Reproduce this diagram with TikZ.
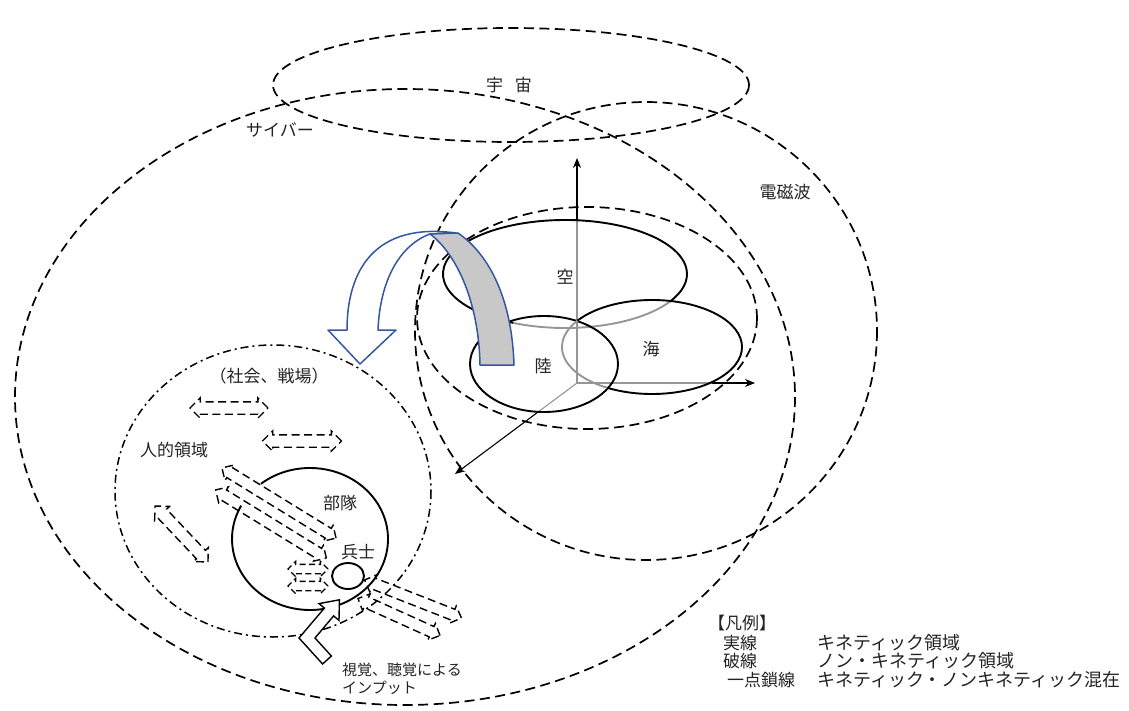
\documentclass[tikz,border=0pt]{standalone}
\usepackage{fontspec}
\setmainfont{Noto Sans CJK JP}
\usetikzlibrary{arrows.meta,shapes.arrows}
\definecolor{bluearrow}{RGB}{52,87,160}
\definecolor{bandgray}{RGB}{200,200,200}
\definecolor{axgray}{RGB}{150,150,150}
\definecolor{txt}{RGB}{35,35,35}
\begin{document}
\begin{tikzpicture}[x=1pt,y=-1pt,
  bigdash/.style={line width=1.7pt, dash pattern=on 10pt off 5.5pt},
  dashdot/.style={line width=1.5pt, dash pattern=on 8pt off 4pt on 2pt off 4pt},
  solidline/.style={line width=1.9pt},
  graysolid/.style={line width=1.9pt, draw=axgray},
  axisblack/.style={line width=1.1pt, draw=black},
  axisgray/.style={line width=1.1pt, draw=axgray},
  axistip/.style={-{Stealth[length=10pt,width=8pt]}},
  hollowarrow/.style={shape=double arrow, draw, line width=1.4pt, dash pattern=on 8pt off 4.5pt,
     inner xsep=0pt, inner ysep=5.5pt, double arrow head extend=4pt, minimum width=0pt},
  narrowarrow/.style={hollowarrow, inner ysep=5pt, double arrow head extend=3.5pt},
  smallarrow/.style={hollowarrow, inner ysep=4pt, double arrow head extend=3pt, dash pattern=on 6pt off 3.5pt},
  lbl/.style={font=\fontsize{17}{20}\selectfont, inner sep=0pt, text=txt},
  legend/.style={font=\fontsize{17}{20}\selectfont, inner sep=0pt, anchor=west, text=txt},
  legendwide/.style={legend, font=\fontsize{18}{20}\selectfont},
  blueband/.style={draw=bluearrow, line width=1.5pt, line join=round},
]
\useasboundingbox (0,0) rectangle (1129,711);

% axes (behind)
\coordinate (O) at (577,383);
\coordinate (vmid) at (577,220);
\coordinate (vtop) at (577,158);
\coordinate (hmid) at (712,383);
\coordinate (hend) at (755,383);
\coordinate (dmid) at (537,412.8);
\coordinate (dend) at (455,474);
\draw[axisgray] (O) -- (vmid);
\draw[axisblack, axistip] (vmid) -- (vtop);
\draw[axisgray] (O) -- (hmid);
\draw[axisblack, axistip] (hmid) -- (hend);
\draw[axisgray] (O) -- (dmid);
\draw[axisblack, axistip] (dmid) -- (dend);

% big dashed domains
\draw[bigdash] (511,85) ellipse [x radius=238, y radius=57];
\draw[bigdash] (405,397) ellipse [x radius=390, y radius=308];
\draw[bigdash] (646,331) ellipse [x radius=231, y radius=229];
\draw[bigdash] (587,318) ellipse [x radius=170, y radius=111];

% air / land / sea
\draw[solidline] (565,274) ++(115:122 and 54) arc[start angle=115, end angle=391, x radius=122, y radius=54];
\draw[graysolid] (565,274) ++(31:122 and 54) arc[start angle=31, end angle=115, x radius=122, y radius=54];
\draw[solidline] (544,364) ellipse [x radius=74, y radius=48];
\draw[solidline] (652,347) ++(214:90 and 47) arc[start angle=214, end angle=480, x radius=90, y radius=47];
\draw[graysolid] (652,347) ++(120:90 and 47) arc[start angle=120, end angle=214, x radius=90, y radius=47];

% blue folded arrow
\draw[blueband, fill=white] (378,330) .. controls (380,280) and (400,245) .. (430,234)
   -- (456,233) .. controls (375,222) and (347,270) .. (347,330)
   -- (328,330) -- (360,364) -- (396,330) -- cycle;
\draw[blueband, fill=bandgray] (430,234) -- (458,233) .. controls (490,255) and (512,300) .. (514,365)
   -- (480,365) .. controls (479,305) and (458,255) .. (430,234) -- cycle;

% human domain
\draw[dashdot] (273,491) ellipse [x radius=158, y radius=146];
\draw[solidline] (310,539) ++(231:78 and 71) arc[start angle=231, end angle=568, x radius=78, y radius=71];
\draw[solidline] (348,576) ellipse [x radius=16, y radius=13];

% dashed hollow arrows
\node[hollowarrow, minimum height=78pt] (a1) at (229,408) {};
\node[hollowarrow, minimum height=79pt] (a2) at (302,441) {};
\node[hollowarrow, minimum height=77pt, rotate=-46.6] (a3) at (181.5,534) {};
\node[narrowarrow, minimum height=134pt, rotate=-31.6] (a4) at (279,503) {};
\node[narrowarrow, minimum height=130pt, rotate=-31.6] (a5) at (271,524) {};
\node[smallarrow, minimum height=40pt] (a6) at (308,569) {};
\node[smallarrow, minimum height=40pt] (a7) at (308,586) {};
\node[narrowarrow, minimum height=104pt, rotate=-21.4] (a8) at (413,599) {};
\node[narrowarrow, minimum height=90pt, rotate=-24.3] (a9) at (399,617) {};

% input arrow
\draw[line width=1.4pt, fill=white, line join=miter] (322.6,664) -- (299,638) -- (324.4,608.1) -- (319,603.6)
   -- (339.4,599.8) -- (339,620.4) -- (333.6,615.9) -- (315,638) -- (331.4,656) -- cycle;

% labels
\node[lbl] (uchu) at (509,85) {宇\hspace{12pt}宙};
\node[lbl] (cyber) at (280,130) {サイバー};
\node[lbl] (denjiha) at (785,192) {電磁波};
\node[lbl] (sora) at (565,277) {空};
\node[lbl] (riku) at (543,366) {陸};
\node[lbl] (umi) at (651,349) {海};
\node[lbl] (shakai) at (269,376) {（社会、戦場）};
\node[lbl] (jinteki) at (174,450) {人的領域};
\node[lbl] (butai) at (340,503) {部隊};
\node[lbl] (heishi) at (358,552) {兵士};
\node[lbl, anchor=north west, align=left, font=\fontsize{15}{18}\selectfont] (input) at (342,663) {視覚、聴覚による\\インプット};

% legend
\node[legend] (lg0) at (708,623) {【凡例】};
\node[legend] (lg1a) at (723,643) {実線};
\node[legendwide] (lg1b) at (817,643) {キネティック領域};
\node[legend] (lg2a) at (723,661) {破線};
\node[legendwide] (lg2b) at (817,661) {ノン・キネティック領域};
\node[legend] (lg3a) at (727,680) {一点鎖線};
\node[legendwide] (lg3b) at (817,680) {キネティック・ノンキネティック混在};
\end{tikzpicture}
\end{document}
